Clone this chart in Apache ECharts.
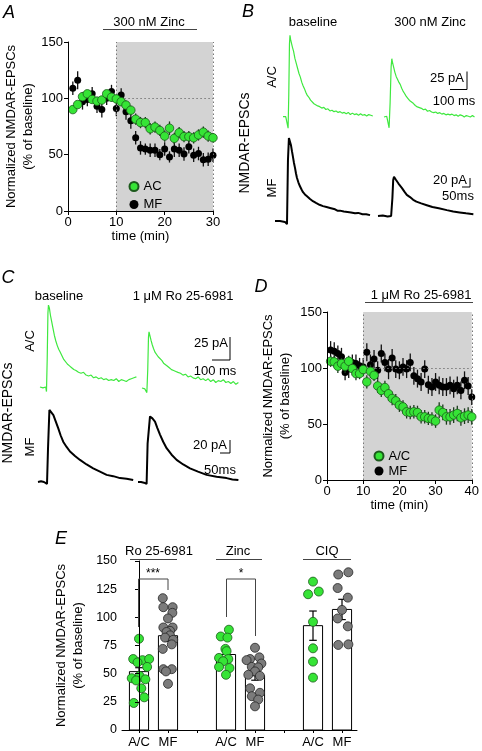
<!DOCTYPE html>
<html><head><meta charset="utf-8">
<script src="https://cdn.jsdelivr.net/npm/echarts@6/dist/echarts.min.js"></script>
<style>html,body{margin:0;padding:0;background:#fff}#c{width:482px;height:751px}</style>
</head><body><div id="c"></div>
<script>
// ---------------- DATA ----------------
// Panel A: 300 nM Zinc time course
const timeA = [1,2,3,4,5,6,7,8,9,10,11,12,13,14,15,16,17,18,19,20,21,22,23,24,25,26,27,28,29,30];
const zincAC = [90,94.5,101.5,104,99,97.5,98.5,104,101,99.5,97,94,89.5,81.5,78.5,78.5,73,74.5,71.5,66.5,73.5,64.5,69.5,66,66,65,67.5,70,66.5,65];
const zincACErr = [3,3,4,3,3,4,3,3,4,3,3,4,4,5,5,5,5,5,5,5,6,5,5,5,5,5,5,5,5,4];
const zincMF = [109,116,97,99,104,93,90,100,106,91,103,88,80,65,56,55,54,54,50,55,48,55,54,50.5,57,49.5,51,45.5,46,49.5];
const zincMFErr = [6,8,7,6,6,6,7,6,6,7,6,7,7,6,6,5,6,6,5,6,5,7,6,6,6,6,6,6,6,6];
const ticksA = [0,10,20,30];
// Panel D: 1 uM Ro 25-6981 time course
const timeD = [1,2,3,4,5,6,7,8,9,10,11,12,13,14,15,16,17,18,19,20,21,22,23,24,25,26,27,28,29,30,31,32,33,34,35,36,37,38,39,40];
const roAC = [106,105.5,101.6,104,101.6,106,99.5,95,95,98.6,87.6,97,93.5,84,80,82.6,77,72.8,70.7,66.8,65.3,60.9,60.3,60.9,60.3,56.4,56.4,55,54.4,52.6,62.4,60.3,56.4,56.4,58,59.4,55.5,57,58,56.4];
const roACErr = [5,5,6,5,6,5,6,6,5,6,6,6,5,6,6,6,6,6,6,6,6,6,6,6,6,6,6,6,6,6,7,7,7,7,7,7,7,7,7,7];
const roMF = [116,115,113,110,96,99,105,104,102,101,114,103,108,98,113,105,99,109,99,98,101,99,105,93,90.5,87.5,99,85,83,87.5,84.5,83,83,84.5,81.5,84.5,80,89,84,74];
const roMFErr = [8,8,7,8,7,8,7,8,7,8,8,9,8,8,8,8,9,8,8,8,8,8,8,8,8,8,8,8,8,8,8,8,8,8,8,8,8,8,8,7];
const ticksD = [0,10,20,30,40];
const ticksY = [0,50,100,150];
// Panel E: summary
const eCats = ['A/C','MF','','A/C','MF','','A/C','MF'];
const eBarPos = [0,1,3,4,6,7];
const eMeans = [51.8,83.7,67,48.2,92.6,107];
const eSem = [3.5,5,4,4,13,9];
const eRoAC = [81,63,62,60,63,56,46,48,45,44,37,29,24];
const eRoACJit = [0,-0.2,0.12,-0.05,0.35,0.28,-0.25,0.02,0.22,-0.1,0.08,0.18,-0.18];
const eRoMF = [117,109,109,104,99,91,91,88,87,84,82,80,76,72,54,54,52,41];
const eRoMFJit = [-0.18,0.16,-0.16,0.15,0,-0.16,0.16,0.07,-0.05,0.07,-0.1,0.18,0.13,-0.18,-0.16,0.13,-0.07,0];
const eZnAC = [89,83,82,72,70,64,63,61,56,55,49];
const eZnACJit = [0.1,-0.18,0.05,-0.02,0.02,-0.24,0.08,-0.1,-0.24,0.12,0];
const eZnMF = [73,64.5,63,62,59,56,55.6,52,49,48,37,33,30,27,21];
const eZnMFJit = [0,0.15,-0.17,-0.29,0.22,-0.11,0.11,0,-0.23,0.17,-0.17,0.17,-0.11,0.11,0];
const eCiqAC = [131.7,120.5,122.9,96,72.5,60.7,46.5];
const eCiqACJit = [0,-0.17,0.2,0,0,0,0];
const eCiqMF = [138,140,126,117.5,106.6,99,92,75.5,76];
const eCiqMFJit = [-0.13,0.22,-0.15,0.2,0,-0.15,0.2,-0.13,0.22];
// Example traces [ms, pA]
const trBacBase = [[0,-1],[8,1],[16,-1],[24,0],[30,-17],[34,30],[38,100],[41,112],[45,106],[50,101],[56,95],[62,90],[70,80],[78,73],[86,66],[94,59],[102,54],[110,47],[118,42],[126,38],[134,33],[142,29],[152,26],[162,22],[172,20],[182,17],[192,16],[204,14],[216,13],[228,11],[240,12],[252,9],[264,10],[276,7],[288,8],[300,6],[312,7],[324,5],[336,6],[348,4],[360,5],[372,3],[384,5],[396,2],[408,4],[420,2],[432,3],[444,1],[456,3],[468,1],[480,2],[492,0],[504,2],[516,1],[528,0]];
const trBacZinc = [[0,0],[8,-1],[16,1],[24,0],[30,-15],[36,20],[42,70],[46,81],[50,76],[56,70],[64,62],[72,56],[80,52],[88,48],[96,45],[104,40],[112,36],[120,33],[130,29],[140,26],[150,23],[160,21],[172,19],[184,16],[196,14],[208,13],[220,12],[232,10],[244,11],[256,8],[268,9],[280,7],[292,6],[304,7],[316,5],[328,6],[340,4],[352,5],[364,3],[376,4],[388,3],[400,4],[412,2],[424,3],[436,1],[448,3],[460,2],[472,0],[484,2],[496,1],[508,0],[520,2],[532,0]];
const trBmfBase = [[0,0],[31,0],[62,-2],[75,-7],[81,135],[87,184],[93,180],[100,168],[106,155],[112,143],[118,130],[125,118],[131,106],[137,96],[146,86],[156,77],[166,70],[175,64],[187,59],[200,55],[219,49],[237,44],[256,40],[278,36],[300,33],[322,31],[344,29],[375,26],[390,23],[406,23],[430,21],[453,20],[475,19],[500,17],[520,18],[547,15],[570,15],[594,13]];
const trBmfZinc = [[0,0],[30,1],[60,-1],[82,0],[86,-3],[90,40],[95,80],[100,87],[106,85],[113,80],[120,76],[128,72],[137,69],[150,62],[165,54],[180,47],[200,42],[220,36],[240,32],[270,28],[305,24],[340,20],[380,17],[430,13],[470,10],[510,8],[550,6],[596,4]];
const trCacBase = [[0,0],[8,1],[16,-1],[24,1],[32,0],[36,-5],[40,30],[44,80],[47,89],[52,86],[58,78],[65,71],[72,64],[80,56],[88,50],[96,45],[104,41],[112,38],[122,34],[132,30],[142,28],[152,25],[164,23],[176,21],[188,19],[200,18],[214,16],[228,15],[242,16],[256,13],[270,12],[284,13],[298,10],[312,11],[326,9],[340,10],[354,8],[368,9],[382,7],[396,8],[410,7],[424,9],[438,6],[452,8],[466,7],[480,6],[494,8],[508,9],[522,10],[536,11]];
const trCacRo = [[0,0],[8,1],[16,-1],[22,0],[27,-5],[32,20],[36,55],[39,61],[44,57],[50,52],[57,47],[64,43],[72,39],[80,37],[90,34],[100,32],[110,30],[120,27],[130,26],[140,24],[152,22],[164,20],[176,19],[188,18],[200,17],[214,16],[228,14],[242,15],[256,12],[270,13],[284,11],[298,10],[312,12],[326,9],[340,10],[354,8],[368,10],[382,7],[396,9],[410,6],[424,8],[438,7],[452,9],[466,6],[480,7],[494,5],[508,7],[522,4],[536,6]];
const trCmfBase = [[0,0],[15,1],[30,0],[45,-3],[50,51],[57,111],[65,109],[77,103],[89,93],[101,83],[113,72],[126,62],[143,54],[160,47],[185,40],[210,34],[243,27],[276,21],[310,16],[343,11],[376,9],[410,6],[443,5],[476,3]];
const trCmfRo = [[0,0],[15,0],[30,-1],[43,-3],[48,59],[60,101],[72,98],[85,93],[97,83],[110,73],[126,62],[143,52],[168,42],[193,34],[226,27],[260,21],[300,16],[343,11],[393,8],[443,6],[472,4],[502,3]];

// ---------------- STYLE / LAYOUT ----------------
const FONT = 'Liberation Sans, Arial, Helvetica, sans-serif';
const GREEN = '#36e436', GREEN_EDGE = '#1c5a1c', TR_GREEN = '#3fe83f';
const chart = echarts.init(document.getElementById('c'), null, {renderer:'canvas'});

const grids = [], xAxes = [], yAxes = [], series = [], graphics = [];

function timeAxes(left, top, w, h, xmax, yName, nameGap) {
  const gi = grids.length;
  grids.push({left, top, width: w, height: h});
  xAxes.push({gridIndex: gi, type: 'value', min: 0, max: xmax, interval: 10, z: 10,
    name: 'time (min)', nameLocation: 'middle', nameGap: 17,
    nameTextStyle: {fontFamily: FONT, fontSize: 13, color: '#000'},
    axisLine: {lineStyle: {color: '#000', width: 1}},
    axisTick: {length: 4, lineStyle: {color: '#000'}},
    axisLabel: {margin: 5, fontFamily: FONT, fontSize: 13, color: '#000'},
    splitLine: {show: false}});
  yAxes.push({gridIndex: gi, type: 'value', min: 0, max: 150, interval: 50, z: 10,
    name: yName, nameLocation: 'middle', nameGap: nameGap, nameRotate: 90,
    nameTextStyle: {fontFamily: FONT, fontSize: 13, color: '#000', lineHeight: 17},
    axisLine: {show: true, lineStyle: {color: '#000', width: 1}},
    axisTick: {show: true, length: 4, lineStyle: {color: '#000'}},
    axisLabel: {margin: 5, fontFamily: FONT, fontSize: 13, color: '#000'},
    splitLine: {show: false}});
  return gi;
}

function errSeries(gi, times, vals, errs, color, z) {
  return {type: 'custom', xAxisIndex: gi, yAxisIndex: gi, silent: true, z: z,
    data: times.map((t, i) => [t, vals[i] - errs[i], vals[i] + errs[i]]),
    renderItem: (p, api) => {
      const a = api.coord([api.value(0), api.value(1)]);
      const b = api.coord([api.value(0), api.value(2)]);
      return {type: 'line', shape: {x1: a[0], y1: a[1], x2: b[0], y2: b[1]},
        style: {stroke: color, lineWidth: 1.3}};
    }};
}

function timePanel(gi, times, acVals, acErr, mfVals, mfErr, acName, drugStart, drugEnd) {
  series.push(errSeries(gi, times, mfVals, mfErr, '#111', 3));
  series.push({type: 'scatter', name: 'MF', xAxisIndex: gi, yAxisIndex: gi, z: 4,
    symbolSize: 7, itemStyle: {color: '#000', opacity: 1},
    data: times.map((t, i) => [t, mfVals[i]]),
    markArea: {silent: true, itemStyle: {color: '#d3d3d3'},
      data: [[{xAxis: drugStart, yAxis: 0}, {xAxis: drugEnd, yAxis: 150}]]},
    markLine: {silent: true, symbol: 'none', label: {show: false},
      lineStyle: {color: '#777', type: [1.5, 2.5], width: 1},
      data: [{xAxis: drugStart}, {xAxis: drugEnd},
        [{coord: [drugStart, 100]}, {coord: [drugEnd, 100]}]]}
  });
  series.push(errSeries(gi, times, acVals, acErr, '#1a3a1a', 5));
  series.push({type: 'scatter', name: acName, xAxisIndex: gi, yAxisIndex: gi, z: 6,
    symbolSize: 8.5, itemStyle: {color: GREEN, borderColor: GREEN_EDGE, borderWidth: 0.8, opacity: 1},
    data: times.map((t, i) => [t, acVals[i]])});
}

// Panel A
const gA = timeAxes(68, 42, 145, 169, 30, 'Normalized NMDAR-EPSCs\n(% of baseline)', 30);
timePanel(gA, timeA, zincAC, zincACErr, zincMF, zincMFErr, 'AC', 10, 30);
// Panel D
const gD = timeAxes(327, 312, 146, 168, 40, 'Normalized NMDAR-EPSCs\n(% of baseline)', 33);
timePanel(gD, timeD, roAC, roACErr, roMF, roMFErr, 'A/C', 10, 40);

// Panel E
const gE = grids.length;
grids.push({left: 122, top: 561, width: 235, height: 169});
xAxes.push({gridIndex: gE, type: 'value', min: -0.586, max: 7.517, z: 10,
  axisLine: {lineStyle: {color: '#000'}},
  axisTick: {show: true, length: 3, customValues: [0,1,2,3,4,5,6,7], lineStyle: {color: '#000'}},
  axisLabel: {show: true, customValues: [0,1,3,4,6,7], margin: 6, fontFamily: FONT, fontSize: 13, color: '#000',
    formatter: v => eCats[Math.round(v)]},
  splitLine: {show: false}});
yAxes.push({gridIndex: gE, type: 'value', min: 0, max: 150, interval: 25, z: 10,
  name: 'Normalized NMDAR-EPSCs\n(% of baseline)', nameLocation: 'middle', nameGap: 35, nameRotate: 90,
  nameTextStyle: {fontFamily: FONT, fontSize: 13, color: '#000', lineHeight: 17},
  axisLine: {show: true, lineStyle: {color: '#000'}},
  axisTick: {show: true, length: 4, lineStyle: {color: '#000'}},
  axisLabel: {margin: 5, fontFamily: FONT, fontSize: 12.5, color: '#000'},
  splitLine: {show: false}});
series.push({type: 'custom', xAxisIndex: gE, yAxisIndex: gE, silent: true, z: 2,
  data: eBarPos.map((p, i) => [p, eMeans[i], eSem[i]]),
  renderItem: (params, api) => {
    const x = api.value(0), m = api.value(1), s = api.value(2);
    const p0 = api.coord([x - 0.33, 0]), p1 = api.coord([x + 0.33, m]);
    const lo = api.coord([x, m - s]), hi = api.coord([x, m + s]);
    const cl = api.coord([x - 0.13, m])[0], cr = api.coord([x + 0.13, m])[0];
    return {type: 'group', children: [
      {type: 'rect', shape: {x: p0[0], y: p1[1], width: p1[0] - p0[0], height: p0[1] - p1[1]},
        style: {fill: '#fff', stroke: '#000', lineWidth: 1}},
      {type: 'line', shape: {x1: lo[0], y1: lo[1], x2: hi[0], y2: hi[1]}, style: {stroke: '#000', lineWidth: 1.2}},
      {type: 'line', shape: {x1: cl, y1: lo[1], x2: cr, y2: lo[1]}, style: {stroke: '#000', lineWidth: 1.2}},
      {type: 'line', shape: {x1: cl, y1: hi[1], x2: cr, y2: hi[1]}, style: {stroke: '#000', lineWidth: 1.2}}
    ]};
  }});
function dots(pos, vals, jit, isGreen) {
  series.push({type: 'scatter', xAxisIndex: gE, yAxisIndex: gE, z: 5, symbolSize: 9,
    itemStyle: isGreen ? {color: GREEN, borderColor: GREEN_EDGE, borderWidth: 0.8, opacity: 1}
                       : {color: '#7b7b7b', borderColor: '#262626', borderWidth: 0.8, opacity: 1},
    data: vals.map((v, i) => [pos + jit[i], v])});
}
dots(0, eRoAC, eRoACJit, true);
dots(1, eRoMF, eRoMFJit, false);
dots(3, eZnAC, eZnACJit, true);
dots(4, eZnMF, eZnMFJit, false);
dots(6, eCiqAC, eCiqACJit, true);
dots(7, eCiqMF, eCiqMFJit, false);

// Trace panels: each trace in its own hidden-axis grid
function trace(data, x0, yBase, msPerPx, pAPerPx, wPx, color, lw) {
  const gi = grids.length;
  grids.push({left: x0, top: yBase - 100, width: wPx, height: 125});
  xAxes.push({gridIndex: gi, type: 'value', min: 0, max: wPx * msPerPx, show: false});
  yAxes.push({gridIndex: gi, type: 'value', min: -25 * pAPerPx, max: 100 * pAPerPx, show: false});
  series.push({type: 'line', xAxisIndex: gi, yAxisIndex: gi, data: data, showSymbol: false,
    symbol: 'none', silent: true, clip: false, lineStyle: {color: color, width: lw}, z: 3});
}
const sBac = {ms: 5.88, pA: 1.389}, sBmf = {ms: 6.25, pA: 2.22};
const sCac = {ms: 5.56, pA: 1.087}, sCmf = {ms: 5.0, pA: 1.54};
trace(trBacBase, 283, 116, sBac.ms, sBac.pA, 95, TR_GREEN, 1.2);
trace(trBacZinc, 384, 117, sBac.ms, sBac.pA, 95, TR_GREEN, 1.2);
trace(trBmfBase, 275, 221, sBmf.ms, sBmf.pA, 100, '#000', 2);
trace(trBmfZinc, 378, 216, sBmf.ms, sBmf.pA, 100, '#000', 2);
trace(trCacBase, 40, 387, sCac.ms, sCac.pA, 100, TR_GREEN, 1.2);
trace(trCacRo, 142, 388, sCac.ms, sCac.pA, 100, TR_GREEN, 1.2);
trace(trCmfBase, 38, 482, sCmf.ms, sCmf.pA, 100, '#000', 2);
trace(trCmfRo, 138, 482, sCmf.ms, sCmf.pA, 100, '#000', 2);

// ---------------- ANNOTATIONS ----------------
function txt(x, y, s, opt) {
  opt = opt || {};
  graphics.push({type: 'text', x: x, y: y, rotation: opt.rot || 0, z: 20, silent: true,
    style: {text: s, fontFamily: FONT, fontSize: opt.size || 13, fontStyle: opt.italic ? 'italic' : 'normal',
      fill: '#000', textAlign: opt.align || 'center', textVerticalAlign: 'middle'}});
}
function line(x1, y1, x2, y2, w, col) {
  graphics.push({type: 'line', z: 20, silent: true, shape: {x1, y1, x2, y2},
    style: {stroke: col || '#000', lineWidth: w || 1}});
}
function scaleBar(cx, cy, pA, ms, s, lblV, lblH, vx, vy, hx, hy) {
  const v = pA / s.pA, h = ms / s.ms;
  line(cx, cy - v, cx, cy, 1); line(cx - h, cy, cx, cy, 1);
  txt(vx, vy, lblV, {align: 'right'}); txt(hx, hy, lblH);
}
// panel letters
txt(9, 13, 'A', {size: 18, italic: true});
txt(248, 12, 'B', {size: 18, italic: true});
txt(8, 278, 'C', {size: 18, italic: true});
txt(261, 287, 'D', {size: 18, italic: true});
txt(61, 539, 'E', {size: 18, italic: true});
// A drug bar
txt(149, 22, '300 nM Zinc'); line(103, 29.5, 197, 29.5, 1.2, '#444');
// D drug bar
txt(421, 295, '1 \u03bcM Ro 25-6981'); line(365, 302.5, 473, 302.5, 1.2, '#444');
// B labels
txt(313, 22, 'baseline'); txt(430, 22, '300 nM Zinc');
txt(272, 77, 'A/C', {rot: Math.PI / 2}); txt(272, 188, 'MF', {rot: Math.PI / 2});
txt(245, 143, 'NMDAR-EPSCs', {rot: Math.PI / 2, size: 14});
scaleBar(467, 89.5, 25, 100, sBac, '25 pA', '100 ms', 464, 78, 454, 101);
scaleBar(470, 187, 20, 50, sBmf, '20 pA', '50ms', 467, 180, 458, 196);
// C labels
txt(59, 296, 'baseline'); txt(183, 296, '1 \u03bcM Ro 25-6981');
txt(30, 341, 'A/C', {rot: Math.PI / 2}); txt(30, 447, 'MF', {rot: Math.PI / 2});
txt(8, 413, 'NMDAR-EPSCs', {rot: Math.PI / 2, size: 14});
scaleBar(230, 360, 25, 100, sCac, '25 pA', '100 ms', 228, 343, 215, 371);
scaleBar(230, 453, 20, 50, sCmf, '20 pA', '50ms', 227, 445, 220, 470);
// E group titles
txt(159, 551, 'Ro 25-6981'); line(130, 559.5, 177, 559.5, 1, '#444');
txt(238, 551, 'Zinc'); line(216, 559.5, 262, 559.5, 1, '#444');
txt(327, 551, 'CIQ'); line(303, 559.5, 351, 559.5, 1, '#444');
// significance brackets
graphics.push({type: 'polyline', z: 20, silent: true, shape: {points: [[138.5, 627], [138.5, 579], [168, 579], [168, 590]]}, style: {stroke: '#444', fill: null, lineWidth: 1}});
txt(153, 574, '***', {size: 12});
graphics.push({type: 'polyline', z: 20, silent: true, shape: {points: [[226.5, 617], [226.5, 579], [255.5, 579], [255.5, 636]]}, style: {stroke: '#444', fill: null, lineWidth: 1}});
txt(241, 574, '*', {size: 12});

chart.setOption({
  animation: false,
  backgroundColor: '#fff',
  textStyle: {fontFamily: FONT},
  grid: grids, xAxis: xAxes, yAxis: yAxes, series: series,
  legend: [
    {left: 123.5, top: 175, orient: 'vertical', itemWidth: 9, itemHeight: 9, itemGap: 5, selectedMode: false,
      data: [{name: 'AC', icon: 'circle'}, {name: 'MF', icon: 'circle'}],
      textStyle: {fontFamily: FONT, fontSize: 13, color: '#000', lineHeight: 13}},
    {left: 368.5, top: 444.5, orient: 'vertical', itemWidth: 9, itemHeight: 9, itemGap: 2, selectedMode: false,
      data: [{name: 'A/C', icon: 'circle'}, {name: 'MF', icon: 'circle'}],
      textStyle: {fontFamily: FONT, fontSize: 13, color: '#000', lineHeight: 13}}
  ],
  graphic: graphics
});
</script></body></html>
